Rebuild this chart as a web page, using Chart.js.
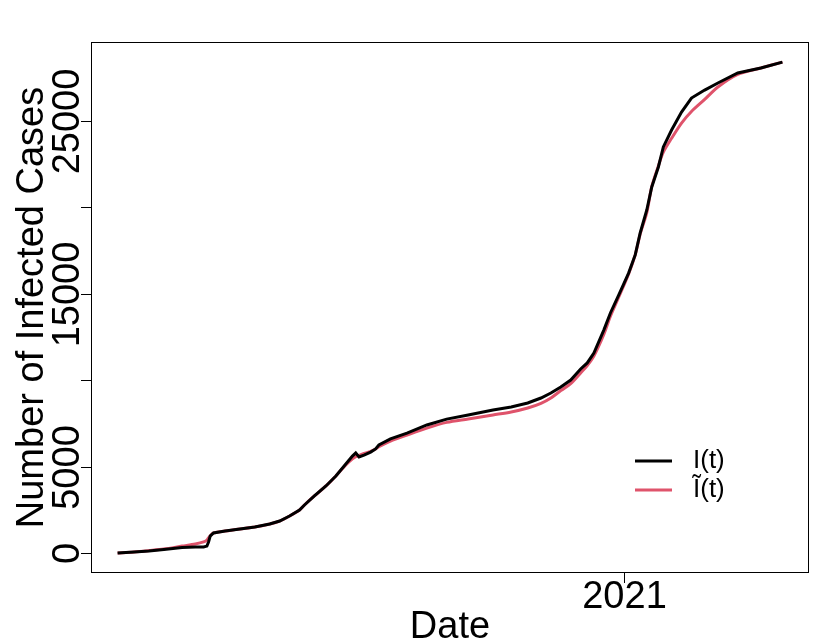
<!DOCTYPE html>
<html>
<head>
<meta charset="utf-8">
<script src="https://cdn.jsdelivr.net/npm/chart.js@4.4.1/dist/chart.umd.min.js"></script>
<style>
  html, body { margin: 0; padding: 0; background: #fff; }
  #wrap { width: 830px; height: 642px; }
</style>
</head>
<body>
<div id="wrap"><canvas id="myChart" width="830" height="642"></canvas></div>
<script>
// days since 2020-03-01 (day 306 = 2021-01-01)
const days = [0, 10, 19, 28, 39, 47, 52, 54, 55, 56, 58, 65, 74, 83, 92, 98, 104, 110, 113, 119,
  126, 132, 138, 142, 144, 146, 149, 153, 156, 158, 165, 175, 187, 199, 212, 227, 238, 248, 256, 262,
  268, 274, 280, 284, 288, 294, 298, 303, 309, 313, 316, 320, 323, 327, 330, 335, 341, 347, 355, 363,
  375, 389, 402];

// I(t) observed infected
const infected = [0, 60, 115, 200, 320, 350, 350, 400, 640, 980, 1160, 1270, 1390, 1500, 1680, 1850, 2140, 2490, 2780, 3300,
  3880, 4460, 5150, 5610, 5790, 5560, 5670, 5840, 6020, 6250, 6600, 6940, 7410, 7750, 7990, 8280, 8450, 8680, 8970, 9260,
  9610, 10010, 10650, 11000, 11570, 12900, 13890, 14930, 16200, 17250, 18520, 19850, 21180, 22340, 23500, 24480, 25520, 26330, 26790, 27200,
  27780, 28070, 28410];

// I~(t) fitted
const fitted = [0, 60, 140, 230, 400, 520, 640, 750, 880, 1000, 1160, 1270, 1390, 1500, 1680, 1850, 2140, 2490, 2780, 3300,
  3880, 4460, 5100, 5450, 5580, 5650, 5760, 5880, 6020, 6150, 6480, 6830, 7230, 7560, 7760, 7990, 8160, 8390, 8660, 8970,
  9400, 9800, 10420, 10850, 11400, 12650, 13700, 14800, 16150, 17250, 18450, 19700, 21200, 22400, 23200, 24000, 24880, 25550, 26250, 26970,
  27700, 28070, 28410];

const yTicks = [0, 5000, 10000, 15000, 20000, 25000];
const yLabels = ['0', '5000', '', '15000', '', '25000'];
const xTicks = [306];
const xLabels = ['2021'];
const seriesNames = ['I(t)', '\u0128(t)'];
const seriesColors = ['#000000', '#DF536B'];

const FONT = '"Liberation Sans", Arial, sans-serif';

const toPoints = (xs, ys) => xs.map((d, i) => ({x: d, y: ys[i]}));

// ejes, etiquetas y leyenda al estilo de R
const baseAxes = {
  id: 'baseAxes',
  afterDraw(chart) {
    const ctx = chart.ctx;
    const a = chart.chartArea;
    const xs = chart.scales.x;
    const ys = chart.scales.y;
    ctx.save();
    ctx.strokeStyle = '#000';
    ctx.lineWidth = 1;
    ctx.strokeRect(a.left + 0.5, a.top + 0.5, a.right - a.left - 1, a.bottom - a.top - 1);

    ctx.fillStyle = '#000';
    ctx.font = '38px ' + FONT;
    // y ticks
    yTicks.forEach((v, i) => {
      const py = Math.round(ys.getPixelForValue(v)) + 0.5;
      ctx.beginPath();
      ctx.moveTo(a.left - 10, py);
      ctx.lineTo(a.left, py);
      ctx.stroke();
      if (yLabels[i]) {
        ctx.save();
        ctx.translate(a.left - 12, py);
        ctx.rotate(-Math.PI / 2);
        ctx.textAlign = 'center';
        ctx.textBaseline = 'alphabetic';
        ctx.fillText(yLabels[i], 0, 0);
        ctx.restore();
      }
    });
    // x ticks
    xTicks.forEach((v, i) => {
      const px = Math.round(xs.getPixelForValue(v)) + 0.5;
      ctx.beginPath();
      ctx.moveTo(px, a.bottom);
      ctx.lineTo(px, a.bottom + 10);
      ctx.stroke();
      ctx.textAlign = 'center';
      ctx.textBaseline = 'alphabetic';
      ctx.fillText(xLabels[i], px, a.bottom + 35);
    });
    // titulos
    ctx.textAlign = 'center';
    ctx.fillText('Date', (a.left + a.right) / 2, 638);
    ctx.save();
    ctx.translate(43, (a.top + a.bottom) / 2);
    ctx.rotate(-Math.PI / 2);
    ctx.fillText('Number of Infected Cases', 0, 0);
    ctx.restore();

    // leyenda
    ctx.font = '26px ' + FONT;
    ctx.textAlign = 'left';
    ctx.textBaseline = 'middle';
    const ly = [461, 490];
    seriesNames.forEach((name, i) => {
      ctx.strokeStyle = seriesColors[i];
      ctx.lineWidth = 3;
      ctx.beginPath();
      ctx.moveTo(635, ly[i]);
      ctx.lineTo(672, ly[i]);
      ctx.stroke();
      ctx.fillText(name, 693, ly[i]);
    });
    ctx.restore();
  }
};

new Chart(document.getElementById('myChart').getContext('2d'), {
  type: 'line',
  data: {
    datasets: [
      {
        label: seriesNames[0],
        data: toPoints(days, infected),
        borderColor: seriesColors[0],
        borderWidth: 3,
        pointRadius: 0,
        tension: 0
      },
      {
        label: seriesNames[1],
        data: toPoints(days, fitted),
        borderColor: seriesColors[1],
        borderWidth: 3,
        pointRadius: 0,
        tension: 0.3
      }
    ]
  },
  options: {
    responsive: false,
    animation: false,
    layout: { padding: { left: 91, right: 21, top: 42, bottom: 69 } },
    plugins: { legend: { display: false }, tooltip: { enabled: false } },
    scales: {
      x: { type: 'linear', min: -16.08, max: 418.08, display: false },
      y: { type: 'linear', min: -1157, max: 29572, display: false }
    }
  },
  plugins: [baseAxes]
});
</script>
</body>
</html>
